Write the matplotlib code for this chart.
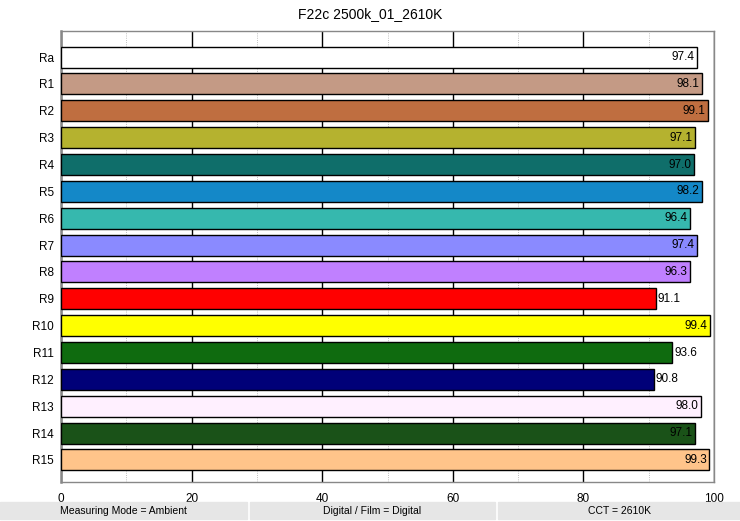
import matplotlib.pyplot as plt
from matplotlib.patches import Rectangle
from matplotlib.ticker import MultipleLocator

# Data
labels = ["Ra", "R1", "R2", "R3", "R4", "R5", "R6", "R7",
          "R8", "R9", "R10", "R11", "R12", "R13", "R14", "R15"]
values = [97.4, 98.1, 99.1, 97.1, 97.0, 98.2, 96.4, 97.4,
          96.3, 91.1, 99.4, 93.6, 90.8, 98.0, 97.1, 99.3]
colors = ["#ffffff", "#c49a85", "#bf6e40", "#b5b22f", "#0f6e6a", "#1488c8",
          "#36b8ae", "#8a8aff", "#c080ff", "#ff0000", "#ffff00", "#0f6b0f",
          "#000078", "#fff0ff", "#1a5218", "#ffc48a"]
title = "F22c 2500k_01_2610K"
footer = ["Measuring Mode = Ambient", "Digital / Film = Digital", "CCT = 2610K"]

plt.rcParams['font.family'] = ['Liberation Sans', 'DejaVu Sans']

fig = plt.figure(figsize=(7.40, 5.21), dpi=100)
ax = fig.add_axes([61 / 740, 1 - 482 / 521, (714 - 61) / 740, (482 - 31) / 521])

y = list(range(len(labels)))
ax.barh(y, values, height=0.78, color=colors, edgecolor="black", linewidth=1.0, zorder=3)

for yi, v in zip(y, values):
    if v >= 95:
        ax.text(v - 0.4, yi, f"{v:.1f}", ha="right", va="center", fontsize=8.5, zorder=4)
    else:
        ax.text(v + 0.3, yi, f"{v:.1f}", ha="left", va="center", fontsize=8.5, zorder=4)

ax.set_xlim(0, 100)
ax.set_ylim(15.82, -0.97)
ax.set_yticks(y)
ax.set_yticklabels(labels, fontsize=8.5)
ax.xaxis.set_major_locator(MultipleLocator(20))
ax.xaxis.set_minor_locator(MultipleLocator(10))
ax.tick_params(axis="x", labelsize=8.5, length=0, pad=8)
ax.tick_params(axis="x", which="minor", length=0)
ax.tick_params(axis="y", length=0, pad=5)
ax.grid(axis="x", which="major", color="black", linewidth=1.0, zorder=0)
ax.grid(axis="x", which="minor", color="#aaaaaa", linewidth=0.6, linestyle=":", zorder=0)
for s in ax.spines.values():
    s.set_color("#888888")
    s.set_linewidth(1.0)
ax.spines["left"].set_linewidth(1.8)

fig.text(0.5, 1 - 14 / 521, title, ha="center", va="center", fontsize=10)

# footer boxes
boxes = [(0, 247), (250, 495), (498, 740)]
for (x0, x1), txt in zip(boxes, footer):
    fig.patches.append(Rectangle((x0 / 740, 2 / 521), (x1 - x0) / 740, 17 / 521,
                                 transform=fig.transFigure, color="#e6e6e6"))
    fig.text((x0 + x1) / 2 / 740, 10.5 / 521, txt, ha="center", va="center", fontsize=7.5)

plt.savefig("out.png", dpi=100)
